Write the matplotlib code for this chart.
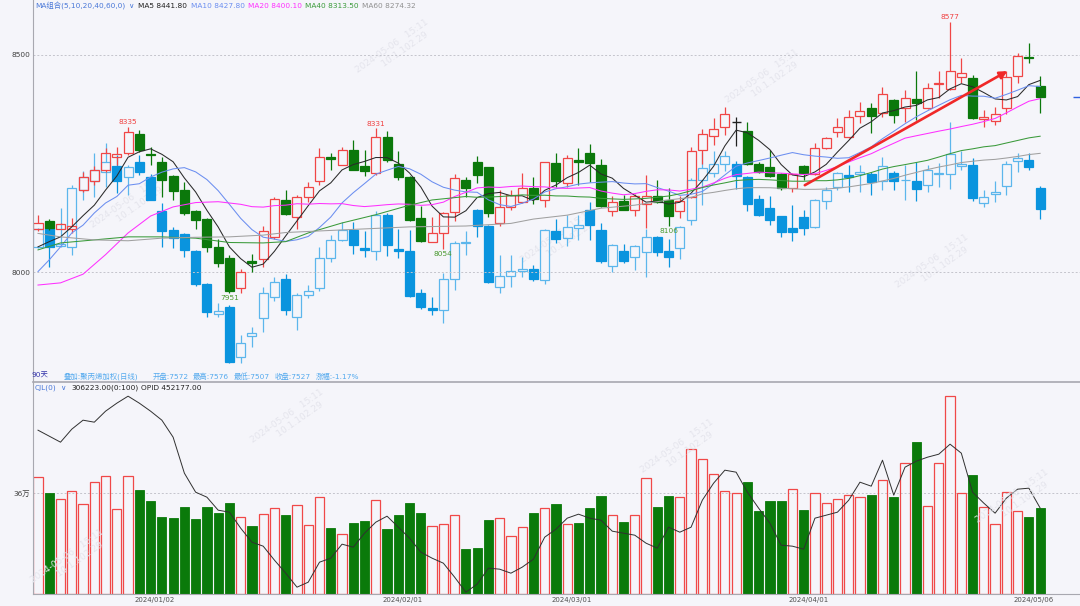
import numpy as np
import pandas as pd
import matplotlib
matplotlib.use("Agg")
import matplotlib.pyplot as plt

plt.rcParams['font.family'] = ['DejaVu Sans', 'Noto Sans CJK SC']

# main contract, 90 daily bars (oldest first)
main_open = [8099, 8118, 8100, 8098, 8189, 8209, 8235, 8266, 8275, 8319,
             8273, 8254, 8221, 8190, 8141, 8121, 8057, 8033, 7964, 8026,
             8031, 8081, 8166, 8126, 8173, 8209, 8264, 8246, 8282, 8244,
             8227, 8310, 8250, 8218, 8125, 8070, 8089, 8139, 8212, 8254,
             8241, 8112, 8149, 8162, 8193, 8166, 8252, 8206, 8257, 8275,
             8247, 8141, 8164, 8144, 8156, 8174, 8166, 8141, 8172, 8281,
             8314, 8333, 8345, 8325, 8250, 8241, 8225, 8193, 8244, 8225,
             8285, 8323, 8310, 8360, 8379, 8367, 8396, 8377, 8398, 8377,
             8434, 8421, 8449, 8448, 8352, 8348, 8379, 8452, 8496, 8429]
main_high = [8131, 8123, 8112, 8125, 8231, 8245, 8285, 8289, 8335, 8328,
             8289, 8265, 8223, 8208, 8143, 8124, 8077, 8039, 8008, 8041,
             8106, 8172, 8189, 8177, 8208, 8285, 8275, 8288, 8305, 8282,
             8331, 8325, 8279, 8221, 8152, 8127, 8138, 8226, 8218, 8267,
             8242, 8190, 8189, 8229, 8218, 8254, 8275, 8270, 8285, 8295,
             8260, 8175, 8177, 8180, 8224, 8212, 8193, 8174, 8289, 8329,
             8354, 8381, 8356, 8346, 8254, 8281, 8228, 8229, 8247, 8298,
             8312, 8354, 8373, 8392, 8390, 8427, 8398, 8419, 8464, 8436,
             8462, 8577, 8492, 8454, 8373, 8381, 8462, 8505, 8527, 8452]
main_low = [8095, 8096, 8098, 8090, 8185, 8200, 8231, 8246, 8269, 8277,
            8246, 8173, 8166, 8131, 8100, 8047, 8012, 7951, 7952, 8000,
            8012, 8077, 8131, 8098, 8162, 8200, 8235, 8246, 8235, 8221,
            8223, 8254, 8212, 8118, 8070, 8068, 8054, 8118, 8173, 8204,
            8126, 8106, 8143, 8158, 8156, 8149, 8197, 8197, 8200, 8208,
            8149, 8129, 8143, 8129, 8101, 8158, 8106, 8124, 8170, 8250,
            8293, 8316, 8290, 8246, 8227, 8218, 8190, 8185, 8212, 8223,
            8284, 8310, 8308, 8343, 8321, 8358, 8343, 8346, 8350, 8375,
            8400, 8420, 8436, 8352, 8335, 8339, 8364, 8435, 8481, 8367]
main_close = [8114, 8101, 8110, 8106, 8218, 8235, 8275, 8272, 8322, 8281,
              8269, 8212, 8186, 8135, 8120, 8058, 8020, 7956, 8000, 8021,
              8094, 8168, 8133, 8173, 8196, 8265, 8260, 8282, 8235, 8232,
              8310, 8259, 8219, 8120, 8071, 8090, 8135, 8216, 8194, 8223,
              8135, 8149, 8177, 8194, 8168, 8253, 8210, 8262, 8254, 8252,
              8151, 8162, 8144, 8174, 8174, 8162, 8129, 8164, 8279, 8317,
              8329, 8364, 8345, 8249, 8230, 8221, 8193, 8225, 8229, 8285,
              8308, 8335, 8358, 8371, 8359, 8409, 8362, 8400, 8389, 8423,
              8436, 8462, 8459, 8354, 8356, 8363, 8450, 8498, 8492, 8404]

# overlay: polypropylene weighted index (own scale)
pp_open = [7448, 7488, 7450, 7448, 7567, 7586, 7605, 7618, 7595, 7625,
           7594, 7522, 7484, 7474, 7439, 7369, 7306, 7322, 7216, 7261,
           7298, 7343, 7380, 7301, 7347, 7362, 7425, 7462, 7484, 7446,
           7439, 7515, 7443, 7438, 7350, 7319, 7315, 7380, 7455, 7526,
           7492, 7363, 7387, 7396, 7401, 7379, 7480, 7466, 7488, 7526,
           7483, 7408, 7439, 7426, 7436, 7469, 7439, 7445, 7505, 7589,
           7603, 7622, 7622, 7594, 7548, 7529, 7512, 7488, 7511, 7489,
           7543, 7574, 7599, 7601, 7600, 7587, 7603, 7588, 7587, 7577,
           7600, 7601, 7617, 7620, 7540, 7559, 7576, 7629, 7630, 7572]
pp_high = [7487, 7490, 7529, 7578, 7606, 7644, 7665, 7640, 7620, 7640,
           7600, 7539, 7490, 7476, 7442, 7372, 7330, 7325, 7263, 7280,
           7364, 7385, 7390, 7350, 7368, 7448, 7473, 7500, 7500, 7480,
           7522, 7518, 7486, 7483, 7360, 7343, 7393, 7460, 7480, 7528,
           7494, 7430, 7430, 7427, 7410, 7485, 7507, 7515, 7515, 7541,
           7497, 7453, 7453, 7451, 7486, 7471, 7465, 7492, 7592, 7647,
           7649, 7649, 7627, 7596, 7557, 7554, 7513, 7535, 7525, 7548,
           7574, 7604, 7620, 7620, 7605, 7637, 7607, 7620, 7626, 7620,
           7623, 7710, 7648, 7634, 7567, 7585, 7627, 7644, 7644, 7576]
pp_low = [7445, 7406, 7448, 7431, 7546, 7553, 7574, 7560, 7557, 7598,
          7546, 7448, 7445, 7427, 7365, 7301, 7300, 7203, 7203, 7238,
          7270, 7335, 7305, 7273, 7340, 7356, 7416, 7460, 7433, 7427,
          7420, 7428, 7424, 7343, 7318, 7305, 7287, 7357, 7430, 7469,
          7372, 7351, 7364, 7385, 7377, 7370, 7455, 7449, 7463, 7463,
          7414, 7395, 7413, 7399, 7385, 7429, 7406, 7423, 7493, 7536,
          7595, 7606, 7570, 7524, 7512, 7493, 7469, 7460, 7473, 7487,
          7527, 7567, 7563, 7563, 7556, 7567, 7567, 7546, 7545, 7563,
          7574, 7570, 7609, 7545, 7532, 7542, 7557, 7605, 7610, 7507]
pp_close = [7485, 7448, 7454, 7571, 7594, 7609, 7626, 7586, 7616, 7604,
            7546, 7482, 7466, 7441, 7370, 7310, 7314, 7207, 7245, 7266,
            7350, 7373, 7315, 7347, 7355, 7425, 7462, 7484, 7452, 7441,
            7515, 7452, 7439, 7345, 7322, 7315, 7380, 7455, 7458, 7492,
            7373, 7387, 7398, 7402, 7380, 7483, 7464, 7490, 7494, 7493,
            7417, 7451, 7418, 7449, 7469, 7437, 7427, 7490, 7588, 7613,
            7622, 7638, 7596, 7538, 7514, 7505, 7479, 7479, 7487, 7546,
            7567, 7602, 7595, 7605, 7584, 7617, 7587, 7589, 7570, 7609,
            7602, 7643, 7622, 7550, 7552, 7563, 7622, 7634, 7615, 7527]

# volume and open interest, in thousands of lots
volume_k = [417, 361, 339, 367, 322, 402, 422, 303, 422, 371,
            331, 277, 272, 310, 267, 310, 289, 324, 277, 244,
            286, 306, 284, 318, 248, 346, 236, 213, 253, 260,
            335, 234, 284, 326, 291, 242, 249, 283, 162, 165,
            263, 270, 207, 241, 291, 306, 322, 249, 253, 308,
            349, 282, 257, 283, 415, 311, 352, 345, 519, 484,
            429, 369, 360, 402, 297, 333, 333, 374, 299, 360,
            324, 339, 353, 346, 354, 407, 347, 467, 542, 314,
            467, 709, 360, 425, 310, 249, 366, 297, 277, 306.223]
oi_k = [530, 524, 518, 531, 540, 538, 549, 557, 564, 557,
        549, 540, 523, 487, 468, 463, 450, 448, 432, 418,
        414, 400, 387, 373, 378, 398, 402, 416, 413, 427,
        438, 444, 433, 422, 408, 402, 397, 383, 368, 376,
        392, 391, 387, 393, 401, 423, 431, 442, 446, 442,
        440, 429, 427, 425, 417, 412, 433, 428, 433, 460,
        477, 490, 488, 468, 452, 437, 415, 414, 411, 442,
        445, 448, 460, 478, 474, 500, 465, 493, 499, 503,
        506, 516, 507, 468, 457, 447, 462, 471, 472, 452.177]

# moving-average values before enough history is on screen
ma5_head_idx = [0, 1, 2, 3]
ma5_head = [8058, 8070, 8081, 8104]
ma10_head_idx = [0, 1, 2, 3, 4, 5, 6, 7, 8]
ma10_head = [8001, 8028, 8058, 8090, 8108, 8136, 8159, 8174, 8200]
ma20_head_idx = [0, 2, 4, 6, 8, 10, 12, 14, 16, 18]
ma20_head = [7970, 7975, 7995, 8040, 8090, 8129, 8150, 8160, 8162, 8156]
ma40_head_idx = [0, 2, 5, 8, 11, 14, 17, 20, 22, 24, 27, 30, 33, 35, 38]
ma40_head = [8051, 8067, 8074, 8081, 8081, 8078, 8068, 8067, 8070, 8090,
             8113, 8132, 8154, 8166, 8174]
ma60_head_idx = [0, 2, 5, 8, 11, 14, 17, 20, 22, 27, 33, 38, 42, 44, 47,
                 50, 53, 56, 58]
ma60_head = [8089, 8081, 8074, 8072, 8078, 8080, 8081, 8085, 8091, 8097,
             8104, 8106, 8112, 8122, 8131, 8147, 8154, 8166, 8172]

peak_idx = [8, 30, 81]
trough_idx = [17, 36, 56]
date_idx = [11, 33, 48, 69, 89]
date_labels = ['2024/01/02', '2024/02/01', '2024/03/01', '2024/04/01', '2024/05/06']

BG = '#f5f5fa'
RED = '#f04646'
GREEN = '#0b780b'
BLUE_F = '#0a94de'
BLUE_E = '#5cb6ec'
W, H = 1080, 606
n = len(main_close)
x = np.arange(n)

fig = plt.figure(figsize=(10.8, 6.06), dpi=100, facecolor=BG)

# ---- price panel ----
ax = fig.add_axes([33 / W, 1 - 382 / H, 1047 / W, 382 / H])
ax_pp = ax.twinx()
ax_pp.set_zorder(1)
ax.set_zorder(2)
ax.patch.set_visible(False)
ax_pp.patch.set_facecolor(BG)

xlim = (-0.444, 92.54)


def candles(a, o, h, l, c, up_edge, dn_col, flat_col, width=0.8):
    for i in range(len(o)):
        top, bot = max(o[i], c[i]), min(o[i], c[i])
        if c[i] > o[i]:
            ec, fc = up_edge, 'none'
        elif c[i] < o[i]:
            ec, fc = dn_col, dn_col
        else:
            ec, fc = flat_col, flat_col
        a.vlines(i, top, h[i], color=ec, lw=0.9)
        a.vlines(i, l[i], bot, color=ec, lw=0.9)
        if top == bot:
            a.hlines(top, i - width / 2, i + width / 2, color=ec, lw=1.0)
        else:
            a.bar(i, top - bot, width, bottom=bot, facecolor=fc, edgecolor=ec, lw=0.9)


candles(ax_pp, pp_open, pp_high, pp_low, pp_close, BLUE_E, BLUE_F, BLUE_E)
candles(ax, main_open, main_high, main_low, main_close, RED, GREEN, '#202020')

closes = pd.Series(main_close, dtype=float)
ma_specs = [(5, ma5_head_idx, ma5_head, '#2a2a2a'),
            (10, ma10_head_idx, ma10_head, '#6b8ef0'),
            (20, ma20_head_idx, ma20_head, '#ff30ff'),
            (40, ma40_head_idx, ma40_head, '#3a9a3a'),
            (60, ma60_head_idx, ma60_head, '#a0a0a0')]
for win, hidx, hval, col in ma_specs:
    roll = closes.rolling(win).mean()
    xs = list(hidx) + list(x[win - 1:])
    ys = list(hval) + list(roll.values[win - 1:])
    ax.plot(xs, ys, color=col, lw=0.75, zorder=3)

for i in peak_idx:
    ax.annotate(str(main_high[i]), (i, main_high[i]), xytext=(0, 1),
                textcoords='offset points', ha='center', va='bottom',
                fontsize=5.3, color='#f04040')
for i in trough_idx:
    ax.annotate(str(main_low[i]), (i, main_low[i]), xytext=(0, -1.5),
                textcoords='offset points', ha='center', va='top',
                fontsize=5.3, color='#4a9a30')

ax.annotate('', xy=(86.1, 8463), xytext=(68.1, 8200),
            arrowprops=dict(arrowstyle='-|>', color='#f02828', lw=1.9,
                            mutation_scale=11, shrinkA=0, shrinkB=0))
ax.hlines(main_close[-1], 91.9, 92.54, color='#3060e0', lw=1.0)

ax.set_xlim(*xlim)
ax.set_ylim(7746.6, 8626.7)
ax_pp.set_ylim(7164, 7966)
ax.set_yticks([8000, 8500])
ax.set_yticklabels(['8000', '8500'])
ax.tick_params(axis='y', length=0, pad=2, labelsize=5.3, labelcolor='#404040')
ax.set_xticks([])
ax_pp.set_yticks([])
for v in (8000, 8500):
    ax.axhline(v, color='#c4c4cc', lw=0.7, ls=(0, (2, 2)), zorder=0)
for a in (ax, ax_pp):
    for s in a.spines.values():
        s.set_visible(False)
ax.spines['left'].set_visible(True)
ax.spines['left'].set_color('#a8a8b0')
ax.spines['bottom'].set_visible(True)
ax.spines['bottom'].set_color('#a8a8b0')
ax.spines['bottom'].set_linewidth(1.2)

# ---- volume / open interest panel ----
axv = fig.add_axes([33 / W, 1 - 594 / H, 1047 / W, 212 / H], facecolor=BG)
vol_up = np.array(main_close) >= np.array(main_open)
vol = np.array(volume_k)
axv.bar(x[vol_up], vol[vol_up], 0.82, facecolor='none', edgecolor='#f04848', lw=0.9)
axv.bar(x[~vol_up], vol[~vol_up], 0.82, facecolor='#0a7a0a', edgecolor='#0a7a0a', lw=0.6)
axv.axhline(360, color='#c4c4cc', lw=0.7, ls=(0, (2, 2)), zorder=0)
axv.set_xlim(*xlim)
axv.set_ylim(0, 757.9)
axv.set_yticks([360])
axv.set_yticklabels(['36万'])
axv.tick_params(axis='y', length=0, pad=2, labelsize=5.3, labelcolor='#404040')
axv.set_xticks([d - 0.6 for d in date_idx])
axv.set_xticklabels(date_labels)
axv.tick_params(axis='x', length=0, pad=2, labelsize=5, labelcolor='#505050')
for s in axv.spines.values():
    s.set_visible(False)
axv.spines['left'].set_visible(True)
axv.spines['left'].set_color('#a8a8b0')
axv.spines['bottom'].set_visible(True)
axv.spines['bottom'].set_color('#a8a8b0')

ax_oi = axv.twinx()
ax_oi.plot(x, oi_k, color='#303030', lw=0.7)
ax_oi.set_ylim(366.177, 578.177)
ax_oi.set_yticks([])
for s in ax_oi.spines.values():
    s.set_visible(False)

# ---- header texts ----
def ftext(px, py, s, color, size=5.3):
    fig.text(px / W, 1 - py / H, s, color=color, fontsize=size, va='center', ha='left')


ftext(35, 6, 'MA组合(5,10,20,40,60,0)', '#4a78d8')
ftext(128, 6, '∨', '#4a78d8')
ftext(138, 6, 'MA5 8441.80', '#202020')
ftext(191, 6, 'MA10 8427.80', '#6b8ef0')
ftext(248, 6, 'MA20 8400.10', '#ff30ff')
ftext(305, 6, 'MA40 8313.50', '#3a9a3a')
ftext(362, 6, 'MA60 8274.32', '#909090')

ftext(32, 376, '90天', '#3333aa')
ftext(64, 376, '叠加:聚丙烯加权(日线)', '#55aaee')
ftext(153, 376, '开盘:7572', '#55aaee')
ftext(193, 376, '最高:7576', '#55aaee')
ftext(234, 376, '最低:7507', '#55aaee')
ftext(275, 376, '收盘:7527', '#55aaee')
ftext(316, 376, '涨幅:-1.17%', '#55aaee')

ftext(35, 388, 'CJL(0)', '#4a78d8')
ftext(60, 388, '∨', '#4a78d8')
ftext(71, 388, '306223.00(0:100)', '#202020')
ftext(141, 388, 'OPID 452177.00', '#202020')

# faint watermarks
for px, py in [(130, 205), (395, 50), (765, 80), (935, 265), (560, 240),
               (290, 420), (680, 450), (1015, 500), (70, 560)]:
    fig.text(px / W, 1 - py / H, '2024-05-06   15:11\n      10.1.102.29',
             color='#e4e4ec', fontsize=6.5, rotation=35, ha='center',
             va='center', zorder=0)

fig.savefig('out.png', dpi=100, facecolor=BG)
